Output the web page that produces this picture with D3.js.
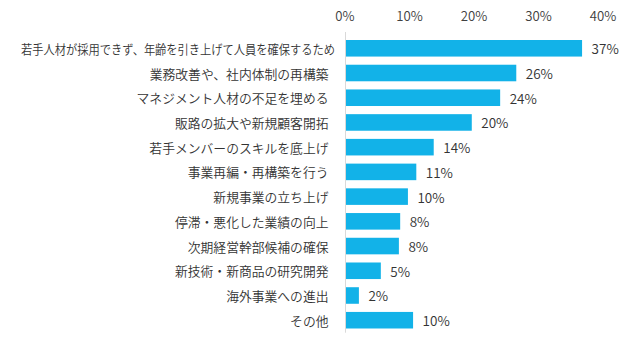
<!DOCTYPE html>
<html><head><meta charset="utf-8">
<script src="https://cdn.jsdelivr.net/npm/d3@7"></script>
<style>
html,body{margin:0;padding:0;background:#fff;}
svg{display:block;font-family:"Noto Sans CJK JP","Noto Sans",sans-serif;}
</style></head>
<body><svg id="c" width="633" height="348"></svg>
<script>
const categories = [
  "若手人材が採用できず、年齢を引き上げて人員を確保するため",
  "業務改善や、社内体制の再構築",
  "マネジメント人材の不足を埋める",
  "販路の拡大や新規顧客開拓",
  "若手メンバーのスキルを底上げ",
  "事業再編・再構築を行う",
  "新規事業の立ち上げ",
  "停滞・悪化した業績の向上",
  "次期経営幹部候補の確保",
  "新技術・新商品の研究開発",
  "海外事業への進出",
  "その他"
];
const values = [36.6, 26.4, 23.9, 19.5, 13.6, 10.9, 9.6, 8.4, 8.2, 5.4, 2.0, 10.4];
const valueLabels = ["37%","26%","24%","20%","14%","11%","10%","8%","8%","5%","2%","10%"];
const tickValues = [0, 10, 20, 30, 40];
const tickLabels = ["0%","10%","20%","30%","40%"];

const svg = d3.select("#c");
const x = d3.scaleLinear().domain([0, 40]).range([346, 604]);
const y = d3.scaleBand().domain(categories).range([35.8, 332.7]).paddingInner(0.33).paddingOuter(0.17);

// top axis tick labels
svg.append("g").selectAll("text").data(tickValues).join("text")
  .attr("x", d => x(d) - 1)
  .attr("y", 15.5)
  .attr("text-anchor", "middle")
  .attr("dominant-baseline", "central")
  .attr("font-size", 13.2)
  .attr("font-weight", 350)
  .attr("fill", "#404040")
  .text((d, i) => tickLabels[i]);

// bars
svg.append("g").selectAll("rect").data(values).join("rect")
  .attr("x", x(0))
  .attr("y", (d, i) => y(categories[i]))
  .attr("width", d => x(d) - x(0))
  .attr("height", y.bandwidth())
  .attr("fill", "#12b2e8");

// vertical axis line
svg.append("line")
  .attr("x1", x(0) - 0.5).attr("x2", x(0) - 0.5)
  .attr("y1", 32).attr("y2", 332.7)
  .attr("stroke", "#d9d9d9").attr("stroke-width", 1);

// category labels
svg.append("g").selectAll("text").data(categories).join("text")
  .attr("x", (d, i) => i === 0 ? 335 : 328.5)
  .attr("y", d => y(d) + y.bandwidth() / 2)
  .attr("text-anchor", "end")
  .attr("dominant-baseline", "central")
  .attr("font-size", 12.8)
  .attr("font-weight", 350)
  .attr("fill", "#333333")
  .each(function(d, i){ if (i === 0) d3.select(this).attr("textLength", 314).attr("lengthAdjust", "spacingAndGlyphs"); })
  .text(d => d);

// value labels
svg.append("g").selectAll("text").data(values).join("text")
  .attr("x", d => x(d) + 9.5)
  .attr("y", (d, i) => y(categories[i]) + y.bandwidth() / 2)
  .attr("dominant-baseline", "central")
  .attr("font-size", 13.5)
  .attr("font-weight", 350)
  .attr("fill", "#333333")
  .text((d, i) => valueLabels[i]);
</script>
</body></html>
